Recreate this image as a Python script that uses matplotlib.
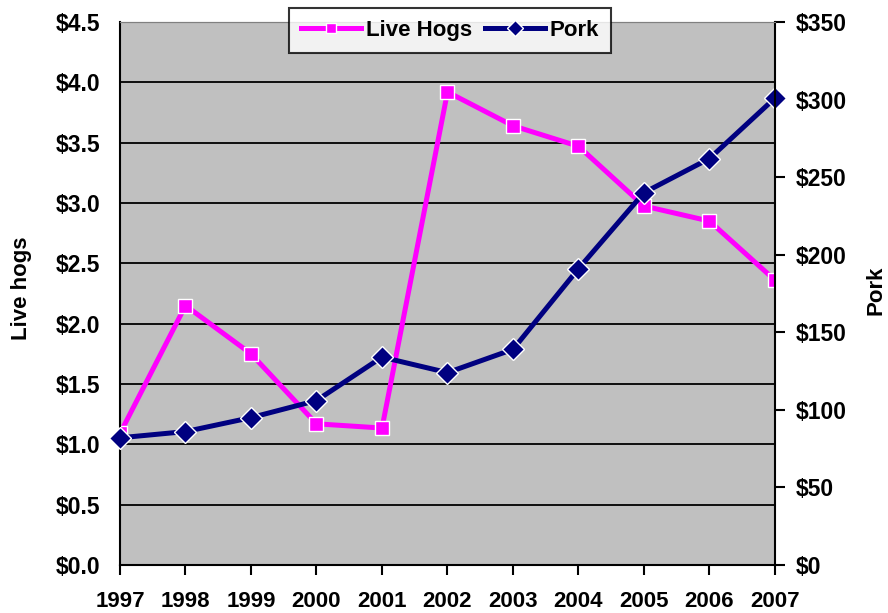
import numpy as np
import matplotlib.pyplot as plt
from matplotlib.ticker import FuncFormatter

plt.rcParams['font.family'] = ['Liberation Sans', 'DejaVu Sans']
plt.rcParams['font.weight'] = 'bold'

years = [1997, 1998, 1999, 2000, 2001, 2002, 2003, 2004, 2005, 2006, 2007]
live_hogs = [1.09, 2.15, 1.75, 1.17, 1.135, 3.92, 3.64, 3.47, 2.975, 2.85, 2.36]
pork = [82, 86, 95, 106, 134, 124, 139, 191, 240, 262, 301]

fig = plt.figure(figsize=(8.88, 6.13), dpi=100)
ax = fig.add_axes([120/888, 1 - 565/613, 655/888, 543/613])
ax2 = ax.twinx()

ax.set_facecolor('#C0C0C0')
ax.set_xlim(1997, 2007)
ax.set_ylim(0, 4.5)
ax.set_yticks(np.arange(0, 4.51, 0.5))
ax.yaxis.set_major_formatter(FuncFormatter(lambda v, p: '${:.1f}'.format(v)))
ax.set_xticks(years)
ax.grid(axis='y', color='black', lw=1.3)
ax.set_axisbelow(True)
ax.tick_params(axis='y', length=0, pad=14, labelsize=16.5)
ax.tick_params(axis='x', length=7, width=1.5, direction='out', pad=11.5, labelsize=16)
for s in ['left', 'bottom']:
    ax.spines[s].set_linewidth(1.5)
ax.spines['top'].set_color('#808080')
ax.spines['right'].set_visible(False)

ax2.set_ylim(0, 350)
ax2.set_yticks(np.arange(0, 351, 50))
ax2.yaxis.set_major_formatter(FuncFormatter(lambda v, p: '${:.0f}'.format(v)))
ax2.tick_params(axis='y', length=7, width=1.5, direction='out', pad=8, labelsize=16.5)
ax2.spines['right'].set_linewidth(1.5)
ax2.spines['top'].set_color('#808080')
for s in ['left', 'bottom']:
    ax2.spines[s].set_visible(False)

fig.text(22/888, 1 - 288/613, 'Live hogs', rotation=90, ha='center', va='center',
         fontsize=16, fontweight='bold')
fig.text(876/888, 1 - 290/613, 'Pork', rotation=90, ha='center', va='center',
         fontsize=16, fontweight='bold')

l1, = ax.plot(years, live_hogs, color='#FF00FF', lw=3.6, marker='s', ms=10,
              mec='white', mew=1, label='Live Hogs')
l2, = ax2.plot(years, pork, color='#000080', lw=3.6, marker='D', ms=11,
               mec='white', mew=1, label='Pork', clip_on=False)

leg = fig.legend(handles=[l1, l2], loc='upper center', ncol=2,
                 bbox_to_anchor=(450/888, 1 - 8/613), fontsize=16,
                 frameon=True, fancybox=False, edgecolor='black',
                 handlelength=2.7, handletextpad=0.2, columnspacing=0.6,
                 borderpad=0.55, borderaxespad=0, markerscale=0.7)
leg.get_frame().set_linewidth(1.5)

fig.savefig('out.png', dpi=100)
